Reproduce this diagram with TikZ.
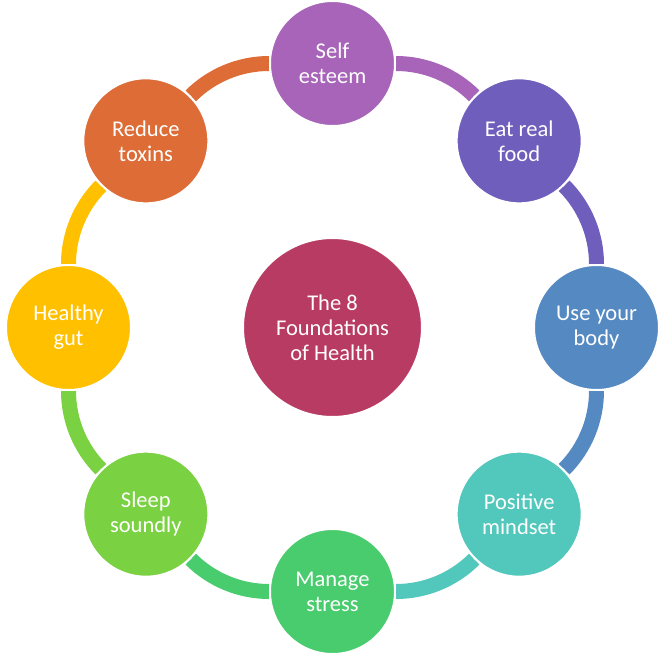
\documentclass[tikz,border=0pt]{standalone}
\usepackage{fontspec}
\setmainfont{Carlito}
\usetikzlibrary{backgrounds}
\definecolor{cSelf}{HTML}{A764B9}
\definecolor{cEat}{HTML}{705EBC}
\definecolor{cBody}{HTML}{5489C2}
\definecolor{cMind}{HTML}{52C7BB}
\definecolor{cStress}{HTML}{48CC6D}
\definecolor{cSleep}{HTML}{7AD141}
\definecolor{cGut}{HTML}{FFC000}
\definecolor{cToxins}{HTML}{DE6C36}
\definecolor{cCentre}{HTML}{B83B64}
\begin{document}
\begin{tikzpicture}[x=1pt,y=1pt,
    bubble/.style={circle,draw=white,line width=2pt,minimum size=125pt,inner sep=0pt,
      text=white,align=center,font=\fontsize{22.5}{25}\selectfont},
    link/.style={line width=15pt,bend left=22.5,looseness=.885}]
\useasboundingbox (-332.5,-329.5) rectangle (331.5,327.5);
\node[bubble,fill=cCentre,minimum size=179pt] (centre) at (0,0) {The 8\\Foundations\\of Health};
\foreach \n/\ang/\col/\txt in {self/90/cSelf/{Self\\esteem}, eat/45/cEat/{Eat real\\food},
    body/0/cBody/{Use your\\body}, mind/-45/cMind/{Positive\\mindset},
    stress/-90/cStress/{Manage\\stress}, sleep/-135/cSleep/{Sleep\\soundly},
    gut/180/cGut/{Healthy\\gut}, toxins/135/cToxins/{Reduce\\toxins}}
  \node[bubble,fill=\col] (\n) at (\ang:264) {\txt};
\begin{scope}[on background layer]
\foreach \a/\b/\col in {self/eat/cSelf, eat/body/cEat, body/mind/cBody, mind/stress/cMind,
    stress/sleep/cStress, sleep/gut/cSleep, gut/toxins/cGut, toxins/self/cToxins}
  \draw[link,\col] (\a) to (\b);
\end{scope}
\end{tikzpicture}
\end{document}
